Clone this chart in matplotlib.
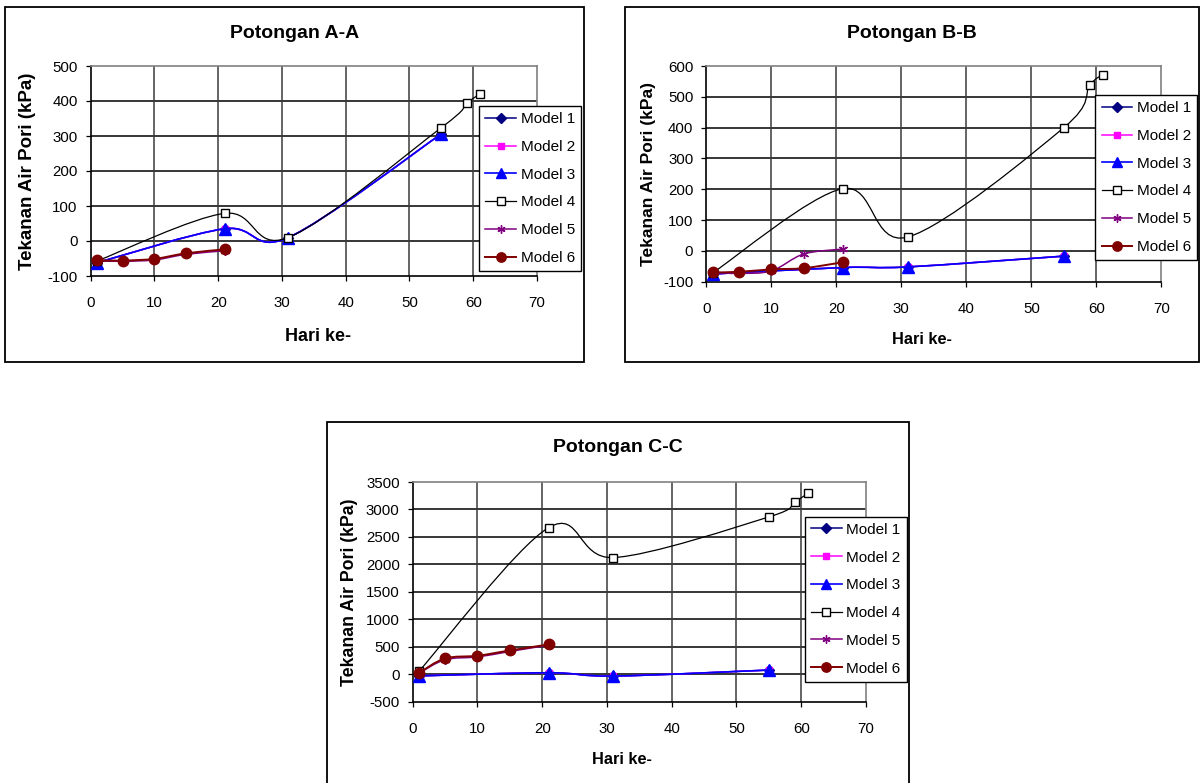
import matplotlib
matplotlib.use('Agg')
import matplotlib.pyplot as plt
from matplotlib.path import Path
from matplotlib.patches import PathPatch, Rectangle
from matplotlib.lines import Line2D
import numpy as np

plt.rcParams['font.family'] = ['Liberation Sans', 'DejaVu Sans']
plt.rcParams['axes.unicode_minus'] = False

W, H = 1200, 783

# ---------------- data ----------------
model_names = ['Model 1', 'Model 2', 'Model 3', 'Model 4', 'Model 5', 'Model 6']

days_m123 = [1, 21, 31, 55]
days_m4 = [1, 21, 31, 55, 59, 61]
days_m56 = [1, 5, 10, 15, 21]

# Potongan A-A
a_m1 = [-62, 35, 10, 306]
a_m2 = [-62, 35, 10, 306]
a_m3 = [-62, 35, 10, 306]
a_m4 = [-57, 79, 10, 324, 393, 420]
a_m5 = [-57, -58, -54, -38, -28]
a_m6 = [-55, -56, -51, -35, -24]

# Potongan B-B
b_m1 = [-75, -54, -52, -17]
b_m2 = [-75, -54, -52, -17]
b_m3 = [-75, -54, -52, -17]
b_m4 = [-71, 202, 45, 400, 537, 572]
b_m5 = [-70, -73, -65, -10, 6]
b_m6 = [-70, -68, -60, -56, -37]

# Potongan C-C
c_m1 = [-30, 27, -33, 76]
c_m2 = [-30, 27, -33, 76]
c_m3 = [-30, 27, -33, 76]
c_m4 = [58, 2670, 2124, 2864, 3136, 3294]
c_m5 = [20, 265, 315, 415, 530]
c_m6 = [27, 288, 336, 433, 542]

titles = ['Potongan A-A', 'Potongan B-B', 'Potongan C-C']
ylabel_text = 'Tekanan Air Pori (kPa)'
xlabel_text = 'Hari ke-'

# ---------------- styles ----------------
colors = ['#000080', '#FF00FF', '#0000FF', '#000000', '#800080', '#800000']
markers = ['D', 's', '^', 's', (6, 2, 0), 'o']
msizes = [5.5, 5.0, 8.0, 6.0, 6.5, 7.5]
mfaces = ['#000080', '#FF00FF', '#0000FF', 'white', '#800080', '#800000']
lws = [1.1, 1.1, 1.2, 0.9, 1.1, 1.4]

fig = plt.figure(figsize=(W / 100, H / 100), dpi=100)


def fx(px):
    return px / W


def fy(py):
    return 1 - py / H


def smooth(ax, x, y, color, lw, z):
    pts = np.column_stack([x, y]).astype(float)
    n = len(pts)
    verts = [pts[0]]
    codes = [Path.MOVETO]
    for i in range(n - 1):
        p0 = pts[i - 1] if i > 0 else pts[i]
        p1 = pts[i]
        p2 = pts[i + 1]
        p3 = pts[i + 2] if i + 2 < n else pts[i + 1]
        c1 = p1 + (p2 - p0) / 6.0
        c2 = p2 - (p3 - p1) / 6.0
        verts += [c1, c2, p2]
        codes += [Path.CURVE4] * 3
    ax.add_patch(PathPatch(Path(verts, codes), fill=False, edgecolor=color,
                           lw=lw, zorder=z, capstyle='round', joinstyle='round'))


panels = [
    dict(frame=(4.5, 7, 584, 362), ax=(90.7, 66, 537, 276), ylim=(-100, 500), ystep=100,
         series=[(days_m123, a_m1), (days_m123, a_m2), (days_m123, a_m3), (days_m4, a_m4),
                 (days_m56, a_m5), (days_m56, a_m6)],
         leg=(581, 106), title_y=33, ylab=(27.5, 13.5), xlab=(318, 336, 13.0)),
    dict(frame=(624.7, 7, 1199, 361.7), ax=(706.3, 66, 1161.3, 281.7), ylim=(-100, 600), ystep=100,
         series=[(days_m123, b_m1), (days_m123, b_m2), (days_m123, b_m3), (days_m4, b_m4),
                 (days_m56, b_m5), (days_m56, b_m6)],
         leg=(1197, 95), title_y=33, ylab=(648.7, 12.5), xlab=(922, 339, 11.8)),
    dict(frame=(326.7, 421.7, 909.3, 800), ax=(412.7, 482, 866, 701.7), ylim=(-500, 3500), ystep=500,
         series=[(days_m123, c_m1), (days_m123, c_m2), (days_m123, c_m3), (days_m4, c_m4),
                 (days_m56, c_m5), (days_m56, c_m6)],
         leg=(906.7, 516.7), title_y=448, ylab=(350, 12.8), xlab=(622, 759, 11.8)),
]

for k, p in enumerate(panels):
    x0, y0, x1, y1 = p['frame']
    fig.patches.append(Rectangle((fx(x0), fy(y1)), fx(x1) - fx(x0), fy(y0) - fy(y1),
                                 transform=fig.transFigure, fill=False,
                                 edgecolor='black', lw=1.3, zorder=0))
    l, t, r, b = p['ax']
    ax = fig.add_axes([fx(l), fy(b), fx(r) - fx(l), fy(t) - fy(b)])
    ax.set_xlim(0, 70)
    ax.set_ylim(*p['ylim'])
    ax.set_xticks(np.arange(0, 71, 10))
    ax.set_yticks(np.arange(p['ylim'][0], p['ylim'][1] + 1, p['ystep']))
    ax.tick_params(axis='both', direction='out', length=3.4, width=0.9, color='black',
                   labelsize=10.8, labelcolor='black')
    ax.tick_params(axis='x', pad=11)
    ax.tick_params(axis='y', pad=6)
    for yv in ax.get_yticks()[1:-1]:
        ax.axhline(yv, color='black', lw=1.1, zorder=1)
    for xv in ax.get_xticks()[1:-1]:
        ax.axvline(xv, color='#3a3a3a', lw=1.1, zorder=1)
    ax.spines['left'].set_color('black')
    ax.spines['bottom'].set_color('black')
    ax.spines['left'].set_linewidth(1.2)
    ax.spines['bottom'].set_linewidth(1.2)
    ax.spines['top'].set_color('#808080')
    ax.spines['right'].set_color('#808080')
    ax.spines['top'].set_linewidth(1.2)
    ax.spines['right'].set_linewidth(1.2)

    handles = []
    for i, (xs, ys) in enumerate(p['series']):
        z = 3 + i
        smooth(ax, xs, ys, colors[i], lws[i], z)
        ax.plot(xs, ys, linestyle='none', marker=markers[i], markersize=msizes[i],
                markerfacecolor=mfaces[i], markeredgecolor=colors[i], markeredgewidth=1.0,
                zorder=z + 0.5, clip_on=False)
        handles.append(Line2D([], [], color=colors[i], lw=lws[i], marker=markers[i],
                              markersize=msizes[i] * 0.9, markerfacecolor=mfaces[i],
                              markeredgecolor=colors[i], label=model_names[i]))

    lx, ly = p['leg']
    leg = ax.legend(handles=handles, loc='upper right', bbox_to_anchor=(fx(lx), fy(ly)),
                    bbox_transform=fig.transFigure, frameon=True, fancybox=False,
                    edgecolor='black', framealpha=1, fontsize=11, handlelength=2.0,
                    handletextpad=0.3, labelspacing=0.9, borderpad=0.4, borderaxespad=0)
    leg.get_frame().set_linewidth(1.0)
    leg.set_zorder(20)

    fig.text(fx((x0 + x1) / 2), fy(p['title_y']), titles[k], ha='center', va='center',
             fontsize=14, fontweight='bold')
    yl_x, yl_fs = p['ylab']
    fig.text(fx(yl_x), fy((t + b) / 2), ylabel_text, ha='center', va='center',
             rotation=90, fontsize=yl_fs, fontweight='bold')
    xl_x, xl_y, xl_fs = p['xlab']
    fig.text(fx(xl_x), fy(xl_y), xlabel_text, ha='center', va='center',
             fontsize=xl_fs, fontweight='bold')

fig.savefig('out.png', dpi=100)
